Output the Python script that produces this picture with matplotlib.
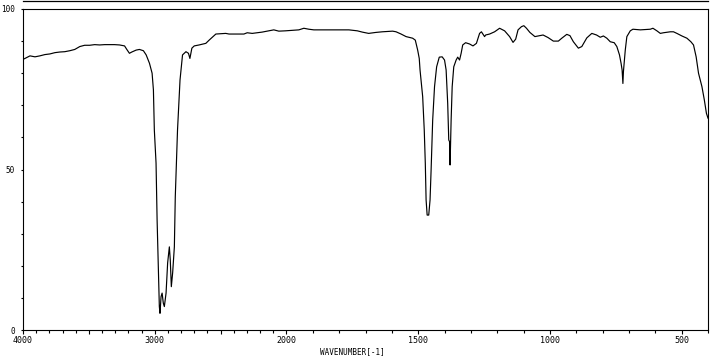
import numpy as np
import matplotlib
matplotlib.use("Agg")
import matplotlib.pyplot as plt
from matplotlib.lines import Line2D
from matplotlib.ticker import FixedLocator

# Wavenumber (cm-1) and transmittance (%)
wavenumber = [
    4000, 3985, 3947, 3909, 3872, 3834, 3796, 3758, 3720, 3683, 3645, 3607, 3569,
    3532, 3494, 3456, 3418, 3380, 3343, 3305, 3267, 3229, 3212, 3192, 3174, 3141,
    3116, 3086, 3065, 3040, 3020, 3010, 3003, 2990, 2982, 2972, 2965, 2960, 2952,
    2944, 2935, 2927, 2914, 2902, 2889, 2882, 2874, 2864, 2851, 2844, 2827, 2808,
    2789, 2763, 2744, 2733, 2718, 2700, 2663, 2612, 2587, 2536, 2461, 2436, 2323,
    2298, 2260, 2185, 2136, 2096, 2058, 2008, 1953, 1934, 1915, 1896, 1877, 1839,
    1801, 1763, 1731, 1712, 1688, 1661, 1636, 1597, 1584, 1565, 1546, 1521, 1511,
    1502, 1496, 1493, 1483, 1477, 1473, 1470, 1466, 1460, 1455, 1451, 1445, 1438,
    1430, 1420, 1409, 1400, 1394, 1388, 1384, 1381, 1379, 1375, 1371, 1365, 1356,
    1350, 1343, 1337, 1331, 1320, 1305, 1292, 1279, 1267, 1260, 1248, 1244, 1229,
    1210, 1191, 1172, 1153, 1140, 1130, 1121, 1108, 1099, 1089, 1076, 1057, 1038,
    1026, 1007, 987, 968, 955, 936, 924, 911, 892, 879, 860, 841, 823, 809, 797,
    784, 771, 756, 746, 736, 730, 726, 723, 721, 714, 708, 695, 685, 657, 619, 609,
    594, 581, 569, 543, 531, 518, 499, 480, 465, 455, 445, 436, 423, 414, 406, 400,
]
transmittance = [
    84.3, 84.6, 85.4, 85.1, 85.4, 85.8, 86.0, 86.4, 86.6, 86.7, 87.0, 87.4, 88.3,
    88.7, 88.7, 88.9, 88.8, 88.9, 88.9, 88.9, 88.8, 88.5, 87.4, 86.2, 86.6, 87.2,
    87.4, 87.0, 85.7, 83.1, 80.0, 74.8, 62.3, 52.0, 34.3, 18.7, 7.3, 5.2, 10.4,
    11.5, 8.4, 7.3, 11.5, 20.9, 25.9, 21.8, 13.5, 17.8, 25.9, 41.5, 62.3, 77.9,
    85.7, 86.7, 86.2, 84.6, 87.8, 88.5, 88.8, 89.3, 90.3, 92.2, 92.4, 92.2, 92.2,
    92.6, 92.4, 92.8, 93.2, 93.5, 93.1, 93.2, 93.5, 94.0, 93.7, 93.5, 93.5, 93.5,
    93.5, 93.5, 93.2, 92.8, 92.4, 92.7, 92.9, 93.1, 92.9, 92.2, 91.4, 90.9, 90.3,
    87.2, 84.6, 81.0, 72.7, 62.3, 51.9, 40.5, 35.8, 35.8, 40.5, 49.8, 65.4, 75.8,
    82.0, 85.0, 85.1, 84.1, 81.0, 70.6, 59.2, 58.7, 51.4, 65.4, 75.8, 82.0, 84.1,
    85.0, 84.1, 86.2, 88.8, 89.5, 89.1, 88.5, 89.3, 92.4, 92.9, 91.4, 91.9, 92.2,
    92.9, 94.0, 93.2, 91.4, 89.6, 90.6, 93.5, 94.5, 94.8, 94.0, 92.7, 91.4, 91.7,
    91.9, 91.1, 90.0, 90.0, 90.9, 92.1, 91.7, 89.8, 87.8, 88.3, 91.0, 92.4, 91.9, 91.2, 91.6,
    90.9, 89.8, 89.5, 88.3, 85.7, 83.1, 81.0, 76.8, 80.5, 87.2, 91.4, 93.2, 93.7, 93.5, 93.7, 94.0,
    93.2, 92.4, 92.6, 92.9, 92.9, 92.4, 91.6, 90.9, 89.8, 88.8, 85.1, 80.0, 75.8, 71.7, 67.5, 66.0,
]

x_major = [4000, 3500, 3000, 2500, 2000, 1500, 1000, 500]
x_major_labels = ["4000", "", "3000", "", "2000", "1500", "1000", "500"]
y_major = [0, 50, 100]
y_major_labels = ["0", "50", "100"]
x_label = "WAVENUMBER[-1]"


def fwd(x):
    x = np.asarray(x, dtype=float)
    return np.where(x >= 2000, x, 2 * x - 2000)


def inv(u):
    u = np.asarray(u, dtype=float)
    return np.where(u >= 2000, u, (u + 2000) / 2)


W, H = 724, 359
fig = plt.figure(figsize=(W / 100, H / 100), dpi=100)
ax = fig.add_axes([23 / W, 1 - 330 / H, (708 - 23) / W, (330 - 9) / H])
ax.set_xscale("function", functions=(fwd, inv))
ax.plot(wavenumber, transmittance, color="black", lw=0.85)
ax.set_xlim(4000, 400)
ax.set_ylim(0, 100)

mono = "DejaVu Sans Mono"
ax.xaxis.set_major_locator(FixedLocator(x_major))
ax.xaxis.set_minor_locator(FixedLocator(list(range(400, 4001, 100))))
ax.set_xticklabels(x_major_labels, fontsize=6, family=mono)
ax.yaxis.set_major_locator(FixedLocator(y_major))
ax.yaxis.set_minor_locator(FixedLocator(list(range(0, 101, 10))))
ax.set_yticklabels(y_major_labels, fontsize=5.5, family=mono)

ax.tick_params(axis="x", which="major", direction="out", length=3.2, width=0.8, pad=1)
ax.tick_params(axis="x", which="minor", direction="out", length=1.8, width=0.8)
ax.tick_params(axis="y", which="both", direction="out", length=1.6, width=0.8, pad=4)

for s in ax.spines.values():
    s.set_linewidth(0.8)
    s.set_color("black")

fig.text(352 / W, 1 - 354 / H, x_label, fontsize=5.5, family=mono,
         ha="center", va="baseline")

fig.add_artist(Line2D([23 / W, 708 / W], [1 - 0.6 / H, 1 - 0.6 / H],
                      transform=fig.transFigure, color="black", lw=0.9))

fig.savefig("out.png", dpi=100)
